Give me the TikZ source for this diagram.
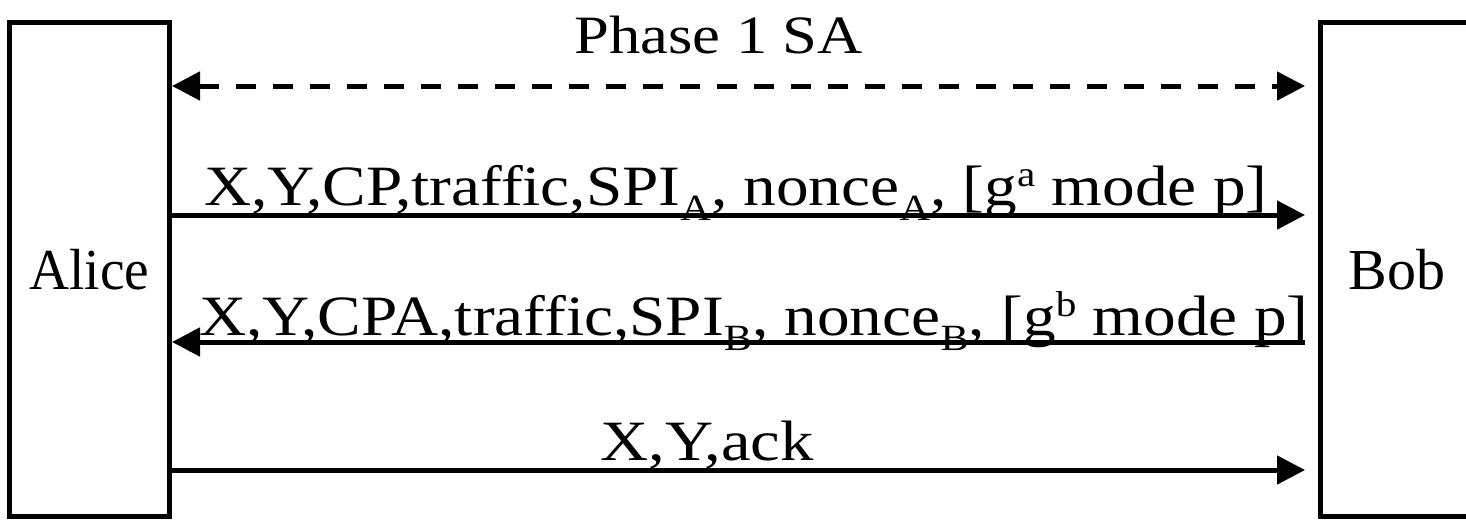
\documentclass[tikz,border=0pt]{standalone}
\usepackage{fontspec}
\setmainfont{Liberation Serif}
\usetikzlibrary{arrows.meta}
\newcommand\msub[1]{\raisebox{-15pt}{\fontsize{37}{37}\selectfont #1}}
\newcommand\msup[1]{\raisebox{19pt}{\fontsize{36}{36}\selectfont #1}}
\begin{document}
\begin{tikzpicture}[x=1pt,y=-1pt,
  actor/.style={draw, line width=5pt, minimum height=494pt, inner sep=0pt},
  lbl/.style={anchor=base west, inner sep=0pt},
  msg/.style={line width=5pt, -{Triangle[length=28pt,width=28pt]}},
  dmsg/.style={line width=5pt, {Triangle[length=28pt,width=28pt]}-{Triangle[length=28pt,width=28pt]}, dash pattern=on 20pt off 17pt}]
\useasboundingbox (0,0) rectangle (1466,519);
\clip (0,0) rectangle (1466,519);
\node[actor, minimum width=160pt] (alice) at (89.5,269.5) {\scalebox{0.955}[1]{\fontsize{58}{58}\selectfont Alice}};
\node[actor, minimum width=153pt] (bob) at (1397,269.5) {\fontsize{58}{58}\selectfont Bob};
\node[lbl] (phase) at (574,54) {\scalebox{1.16}[1]{\fontsize{54}{54}\selectfont Phase 1 SA}};
\node[lbl] (m1) at (204,205) {\scalebox{1.145}[1]{\fontsize{57}{57}\selectfont X,Y,CP,traffic,SPI\msub{A}, nonce\msub{A}, [g\msup{a} mode p]}};
\node[lbl] (m2) at (199,335) {\scalebox{1.145}[1]{\fontsize{57}{57}\selectfont X,Y,CPA,traffic,SPI\msub{B}, nonce\msub{B}, [g\msup{b} mode p]}};
\node[lbl] (m3) at (600,460) {\scalebox{1.17}[1]{\fontsize{57}{57}\selectfont X,Y,ack}};
\draw[dmsg, shorten >=13pt] (alice.east |- 0,86) -- (bob.west |- 0,86);
\draw[msg, shorten >=13pt] (alice.east |- 0,215) -- (bob.west |- 0,215);
\draw[msg, shorten <=13pt] (bob.west |- 0,342) -- (alice.east |- 0,342);
\draw[msg, shorten >=13pt] (alice.east |- 0,470) -- (bob.west |- 0,470);
\end{tikzpicture}
\end{document}
